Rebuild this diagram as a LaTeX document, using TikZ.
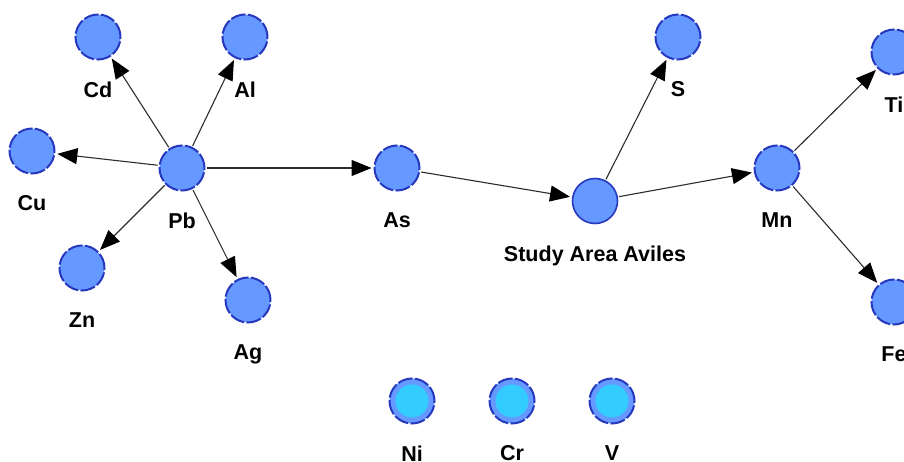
\documentclass[tikz,border=0pt]{standalone}
\usepackage{fontspec}
\setmainfont{Liberation Sans}
\usetikzlibrary{arrows.meta}
\definecolor{nodefill}{RGB}{102,153,255}
\definecolor{nodeedge}{RGB}{38,56,190}
\definecolor{isofill}{RGB}{51,204,255}
\definecolor{edgecol}{RGB}{45,45,45}
\tikzset{
  elem/.style={circle, minimum size=45pt, inner sep=0pt, fill=nodefill,
    draw=nodeedge, line width=2pt, dash pattern=on 15pt off 2.4pt},
  hub/.style={elem, solid, line width=1.6pt},
  iso/.style={elem, path picture={\fill[isofill] (path picture bounding box.center) circle (16.5pt);}},
  every label/.style={font=\fontsize{21.5}{24}\selectfont\bfseries, text=black,
    inner sep=2pt, yshift=-19pt},
  link/.style={draw=edgecol, line width=1.1pt,
    -{Triangle[length=20pt,width=16pt,color=black]}, shorten >=2pt, shorten <=1pt}
}
\begin{document}
\begin{tikzpicture}[x=1pt, y=-1pt]
  \useasboundingbox (0,0) rectangle (904,462);
  \clip (0,0) rectangle (904,462);
  \fill[white] (0,0) rectangle (904,462);

  % element nodes
  \node[elem, label=below:Cd] (Cd) at (98,37) {};
  \node[elem, label=below:Al] (Al) at (245,37) {};
  \node[elem, label=below:Cu] (Cu) at (32,151) {};
  \node[elem, label=below:Pb] (Pb) at (182,168) {};
  \node[elem, label=below:Zn] (Zn) at (82,268) {};
  \node[elem, label=below:Ag] (Ag) at (248,300) {};
  \node[elem, label=below:As] (As) at (397,168) {};
  \node[hub, label=below:Study Area Aviles] (SA) at (595,201) {};
  \node[elem, label=below:S] (S) at (678,37) {};
  \node[elem, label=below:Mn] (Mn) at (777,168) {};
  \node[elem, label=below:Ti] (Ti) at (894,52) {};
  \node[elem, label=below:Fe] (Fe) at (894,302) {};

  % isolated elements
  \node[iso, label=below:Ni] (Ni) at (412,401) {};
  \node[iso, label=below:Cr] (Cr) at (512,401) {};
  \node[iso, label=below:V] (V) at (612,401) {};

  % influence links
  \draw[link] (Pb) -- (Cd);
  \draw[link] (Pb) -- (Al);
  \draw[link] (Pb) -- (Cu);
  \draw[link] (Pb) -- (Zn);
  \draw[link] (Pb) -- (Ag);
  \draw[link] (Pb) -- (As);
  \draw[link] (As) -- (SA);
  \draw[link] (SA) -- (S);
  \draw[link] (SA) -- (Mn);
  \draw[link] (Mn) -- (Ti);
  \draw[link] (Mn) -- (Fe);
\end{tikzpicture}
\end{document}
